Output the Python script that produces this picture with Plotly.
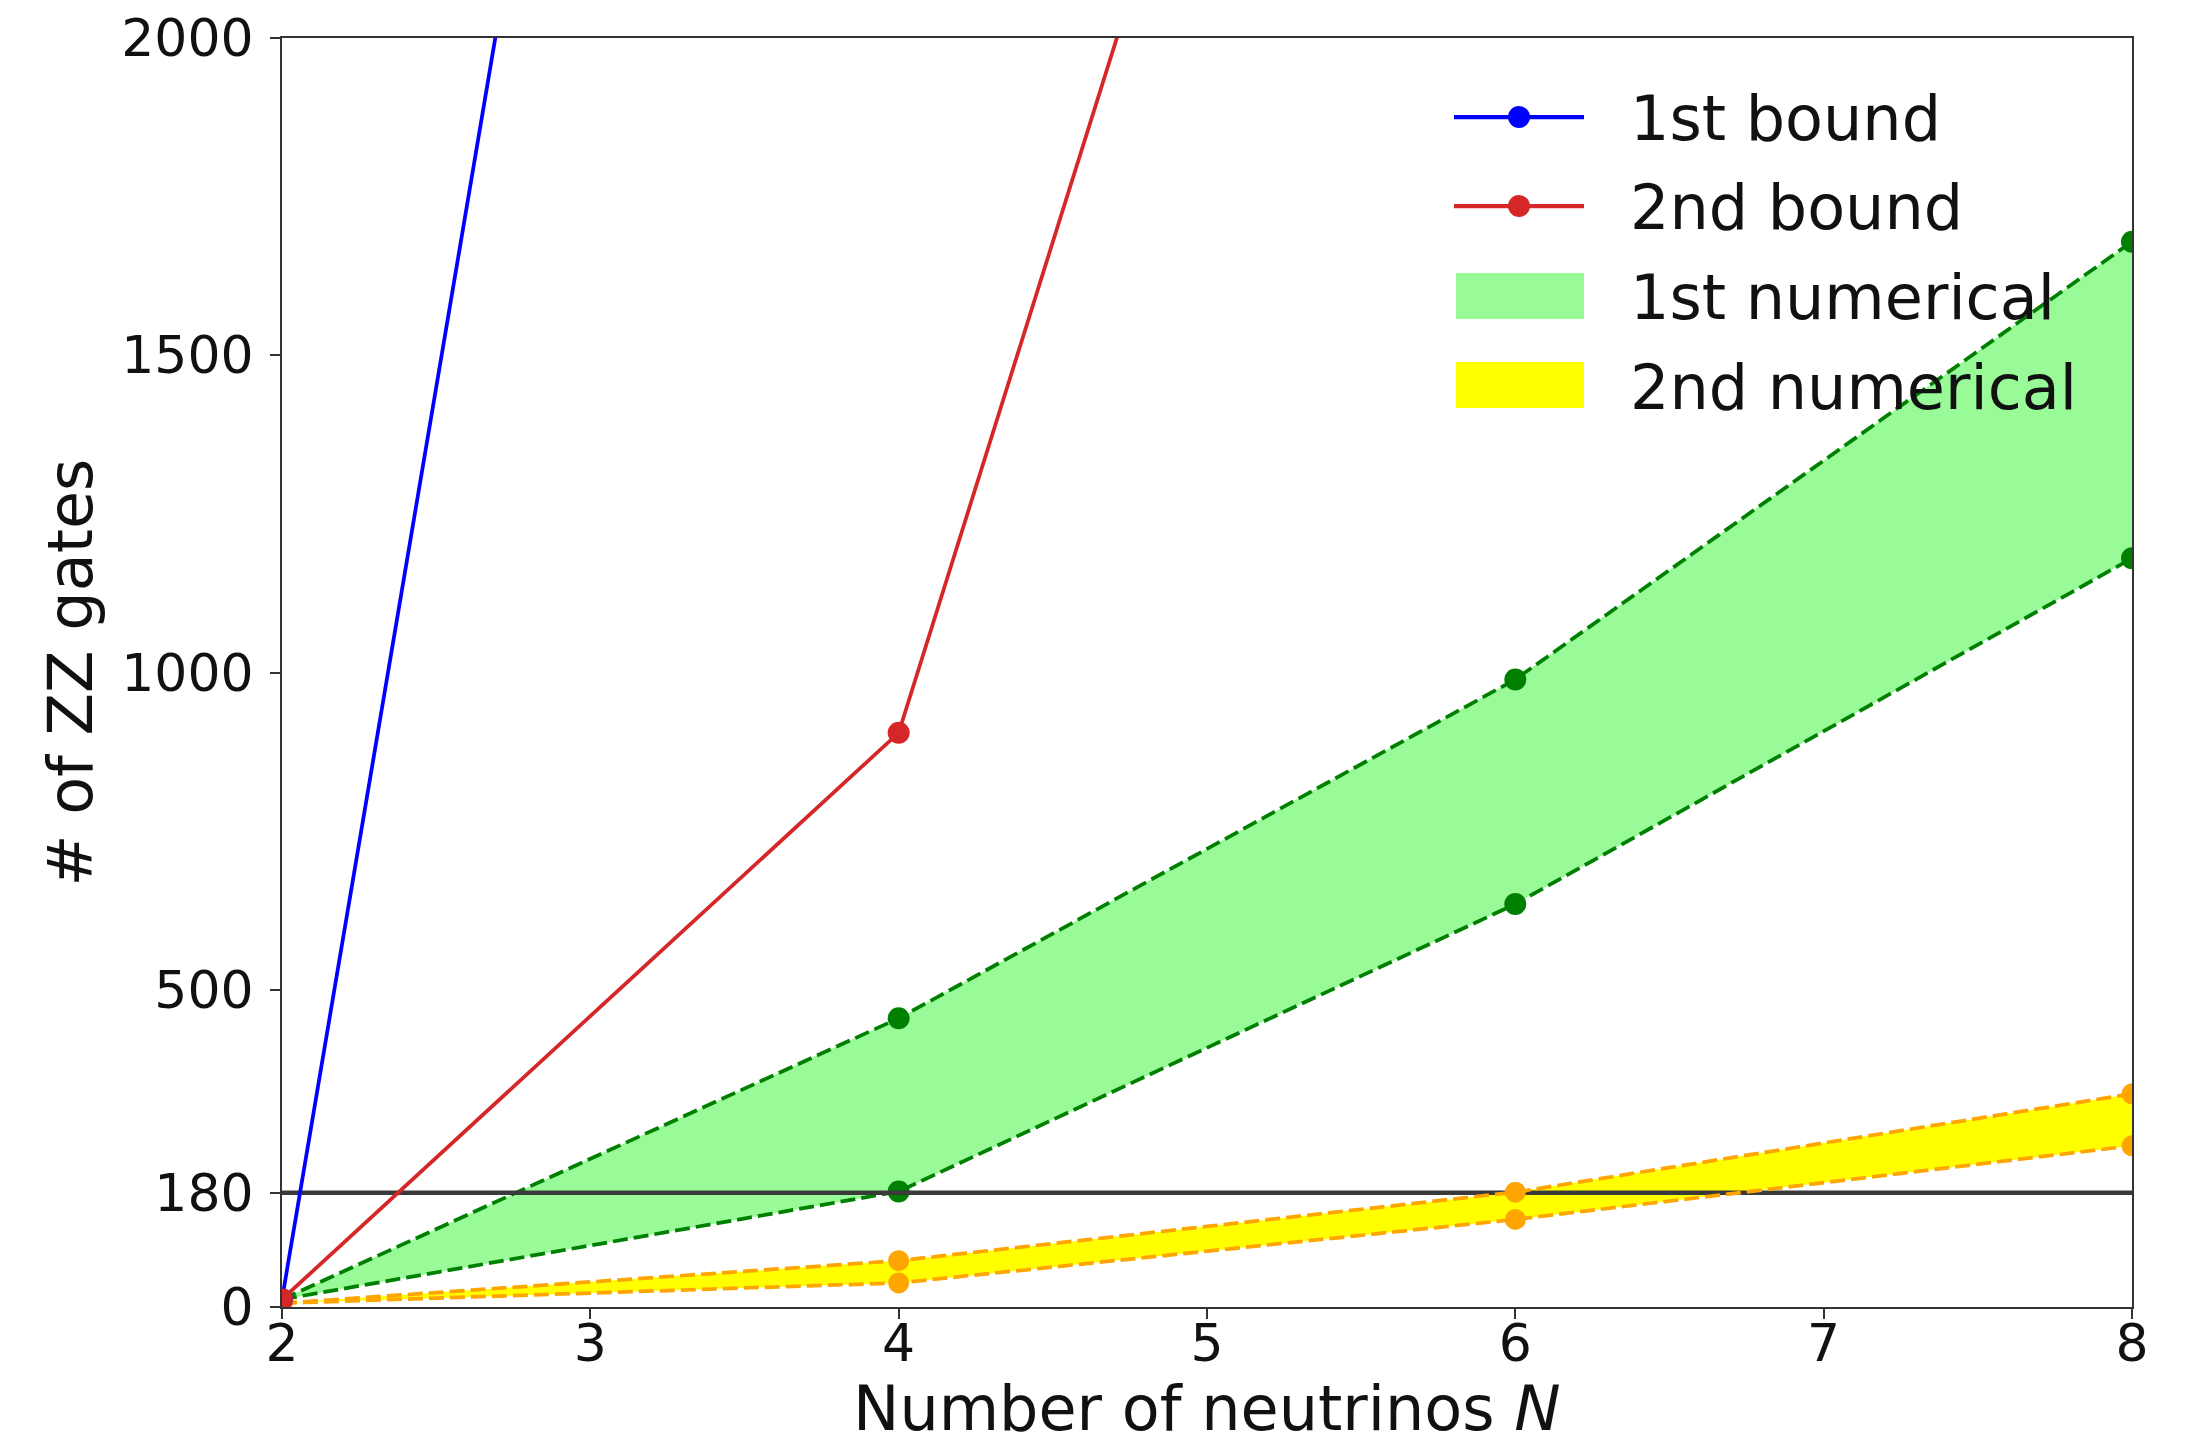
import plotly.graph_objects as go

# Number of neutrinos
n_vals = [2, 4, 6, 8]

# Analytical bounds on the ZZ-gate count
bound1_n = [2, 4]
bound1 = [12, 5760]
bound2_n = [2, 4, 6]
bound2 = [12, 905, 4000]

# Numerical ranges (lower / upper edges of each band)
num1_low = [12, 182, 635, 1180]
num1_high = [12, 455, 989, 1679]
num2_low = [6, 38, 138, 254]
num2_high = [6, 73, 181, 336]

threshold = 180

x_ticks = [2, 3, 4, 5, 6, 7, 8]
y_ticks = [0, 180, 500, 1000, 1500, 2000]

legend_labels = ["1st bound", "2nd bound", "1st numerical", "2nd numerical"]
x_title = "Number of neutrinos <i>N</i>"
y_title = "# of ZZ gates"

FONT = "DejaVu Sans"
FS_TICK = 52
FS_LABEL = 62
TXT = "#111111"

GREEN = "#008000"
PALE_GREEN = "#98FB98"
ORANGE = "#FFA500"
YELLOW = "#FFFF00"
BLUE = "#0000FF"
RED = "#D62728"

W, H = 2188, 1448
ML, MR, MT, MB = 282, 56, 38, 141
PW, PH = W - ML - MR, H - MT - MB

LW = 3.75
MS = 22
DASH = "15px,6px"

fig = go.Figure()

# shaded bands
fig.add_trace(go.Scatter(x=n_vals, y=num1_high, mode="lines", line=dict(width=0),
                         showlegend=False, hoverinfo="skip"))
fig.add_trace(go.Scatter(x=n_vals, y=num1_low, mode="lines", line=dict(width=0),
                         fill="tonexty", fillcolor=PALE_GREEN, showlegend=False))
fig.add_trace(go.Scatter(x=n_vals, y=num2_high, mode="lines", line=dict(width=0),
                         showlegend=False, hoverinfo="skip"))
fig.add_trace(go.Scatter(x=n_vals, y=num2_low, mode="lines", line=dict(width=0),
                         fill="tonexty", fillcolor=YELLOW, showlegend=False))

# edges of the green band
for ys in (num1_high, num1_low):
    fig.add_trace(go.Scatter(x=n_vals, y=ys, mode="lines+markers", showlegend=False,
                             line=dict(color=GREEN, width=LW, dash=DASH),
                             marker=dict(color=GREEN, size=MS)))

# reference level
fig.add_trace(go.Scatter(x=[2, 8], y=[threshold, threshold], mode="lines",
                         showlegend=False, line=dict(color="#3a3a3a", width=4.5)))

# edges of the yellow band
for ys in (num2_high, num2_low):
    fig.add_trace(go.Scatter(x=n_vals, y=ys, mode="lines+markers", showlegend=False,
                             line=dict(color=ORANGE, width=LW, dash=DASH),
                             marker=dict(color=ORANGE, size=MS - 1)))

# bounds
fig.add_trace(go.Scatter(x=bound1_n, y=bound1, mode="lines+markers", name=legend_labels[0],
                         showlegend=False, line=dict(color=BLUE, width=LW),
                         marker=dict(color=BLUE, size=MS)))
fig.add_trace(go.Scatter(x=bound2_n, y=bound2, mode="lines+markers", name=legend_labels[1],
                         showlegend=False, line=dict(color=RED, width=LW),
                         marker=dict(color=RED, size=MS)))


# pixel -> paper coordinate helpers
def px_x(p):
    return (p - ML) / PW


def px_y(p):
    return 1 - (p - MT) / PH


# legend drawn in the upper-right corner of the axes
shapes = []
annotations = []
row_y = [117, 206, 296, 385]
sym_x0, sym_x1 = 1454, 1584
text_x = 1628
legend_styles = [("line", BLUE), ("line", RED), ("box", PALE_GREEN), ("box", YELLOW)]
for (kind, col), yc, label in zip(legend_styles, row_y, legend_labels):
    if kind == "line":
        shapes.append(dict(type="line", xref="paper", yref="paper",
                           x0=px_x(sym_x0), x1=px_x(sym_x1), y0=px_y(yc), y1=px_y(yc),
                           line=dict(color=col, width=LW + 0.5)))
        cx = (sym_x0 + sym_x1) / 2
        r = MS / 2
        shapes.append(dict(type="circle", xref="paper", yref="paper",
                           x0=px_x(cx - r), x1=px_x(cx + r),
                           y0=px_y(yc + r), y1=px_y(yc - r),
                           fillcolor=col, line=dict(width=0)))
    else:
        shapes.append(dict(type="rect", xref="paper", yref="paper",
                           x0=px_x(sym_x0 + 2), x1=px_x(sym_x1), y0=px_y(yc + 23),
                           y1=px_y(yc - 23), fillcolor=col, line=dict(width=0)))
    annotations.append(dict(text=label, xref="paper", yref="paper",
                            x=px_x(text_x), y=px_y(yc + 2), xanchor="left",
                            yanchor="middle", showarrow=False,
                            font=dict(family=FONT, size=FS_LABEL, color=TXT)))

# axis titles
annotations.append(dict(text=x_title, xref="paper", yref="paper",
                        x=0.5, y=px_y(H - 1), xanchor="center", yanchor="bottom",
                        showarrow=False, font=dict(family=FONT, size=FS_LABEL, color=TXT)))
annotations.append(dict(text=y_title, xref="paper", yref="paper", textangle=-90,
                        x=px_x(70), y=0.5, xanchor="center", yanchor="middle",
                        showarrow=False, font=dict(family=FONT, size=FS_LABEL, color=TXT)))

axis_common = dict(
    showline=True, linecolor="#333333", linewidth=2, mirror=True,
    ticks="outside", ticklen=10, tickwidth=2, tickcolor="#333333",
    showgrid=False, zeroline=False, automargin=False,
    tickfont=dict(family=FONT, size=FS_TICK, color=TXT),
)

fig.update_xaxes(range=[2, 8], tickvals=x_ticks, ticklabelstandoff=-20, **axis_common)
fig.update_yaxes(range=[0, 2000], tickvals=y_ticks, ticklabelstandoff=6, **axis_common)

fig.update_layout(
    width=W, height=H,
    margin=dict(l=ML, r=MR, t=MT, b=MB),
    paper_bgcolor="white", plot_bgcolor="white",
    font=dict(family=FONT, size=FS_TICK, color=TXT),
    showlegend=False,
    shapes=shapes,
    annotations=annotations,
)

fig.write_html("out.html")
